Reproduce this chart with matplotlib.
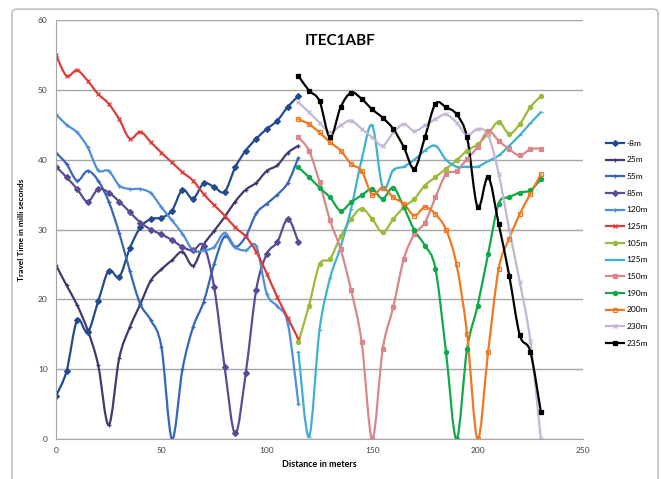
import matplotlib
matplotlib.use("Agg")
import matplotlib.pyplot as plt
from matplotlib.patches import FancyBboxPatch, PathPatch
from matplotlib.path import Path
from matplotlib.lines import Line2D

plt.rcParams['font.family'] = ['Lato', 'DejaVu Sans']

# distances for the two spreads of geophones
x_left = list(range(0, 116, 5))
x_right = list(range(115, 231, 5))

# travel times (ms), left spread
t_m8 = [6.2, 9.7, 17.0, 15.3, 19.7, 24.1, 23.2, 27.3, 30.3, 31.5, 31.7, 32.7,
        35.7, 34.4, 36.6, 36.1, 35.4, 38.9, 41.3, 43.0, 44.4, 45.6, 47.6, 49.1]
t_25 = [24.9, 22.0, 19.2, 15.6, 10.6, 2.0, 11.6, 16.0, 19.3, 22.7, 24.3, 25.6,
        26.8, 24.8, 27.8, 29.8, 31.8, 34.0, 35.7, 36.7, 38.4, 39.2, 41.0, 42.0]
t_55 = [41.0, 39.4, 37.0, 38.4, 37.0, 34.0, 29.5, 24.1, 19.3, 17.0, 13.2, 0.0,
        10.0, 16.0, 19.6, 25.0, 29.0, 27.5, 29.0, 32.3, 33.7, 35.0, 36.7, 40.3]
t_85 = [39.0, 37.5, 35.8, 34.0, 35.8, 35.3, 34.0, 32.5, 31.0, 30.0, 29.3, 28.5,
        27.5, 27.0, 27.7, 21.8, 10.3, 0.8, 9.4, 21.4, 26.5, 28.2, 31.5, 28.2]
t_120 = [46.5, 45.0, 43.9, 41.8, 38.5, 38.4, 36.3, 35.8, 35.8, 35.2, 33.2, 31.3,
         29.4, 27.0, 27.0, 27.5, 29.5, 27.5, 27.0, 27.6, 20.8, 19.0, 16.5, 5.0]
t_125a = [55.0, 52.0, 52.8, 51.3, 49.4, 48.0, 45.8, 43.0, 44.0, 42.5, 41.0, 39.6,
          38.2, 37.0, 35.1, 33.5, 32.0, 30.3, 29.0, 26.8, 23.7, 20.3, 17.3, 14.3]

# travel times (ms), right spread
t_105 = [13.9, 19.1, 25.0, 25.8, 29.0, 31.5, 33.0, 31.5, 29.6, 31.5, 33.2, 34.4,
         36.3, 37.5, 38.7, 39.9, 41.3, 42.2, 43.7, 45.4, 43.7, 45.1, 47.5, 49.1]
t_125b = [12.5, 0.3, 15.6, 23.0, 27.5, 33.0, 40.0, 44.9, 36.0, 38.5, 39.0, 40.0,
          41.3, 42.0, 40.0, 39.0, 39.0, 39.0, 39.8, 40.6, 42.0, 43.5, 45.2, 46.8]
t_150 = [43.2, 41.3, 36.8, 31.3, 27.2, 21.3, 13.9, 0.0, 12.9, 18.9, 25.8, 29.3,
         31.0, 34.6, 37.9, 38.4, 40.1, 41.8, 44.1, 42.7, 41.5, 40.6, 41.5, 41.6]
t_190 = [38.9, 37.5, 36.0, 34.6, 32.7, 33.9, 34.9, 35.8, 34.4, 36.0, 33.2, 29.9,
         27.7, 24.4, 12.5, 0.0, 12.9, 19.1, 26.5, 33.7, 34.6, 35.3, 35.6, 37.2]
t_200 = [45.8, 45.1, 43.9, 42.5, 41.3, 39.4, 38.4, 35.0, 36.0, 34.6, 33.7, 32.0,
         33.2, 32.2, 30.0, 25.0, 15.1, 0.0, 12.5, 24.4, 28.7, 32.2, 35.1, 37.9]
t_230 = [48.2, 46.8, 45.3, 43.9, 44.9, 45.6, 44.4, 43.2, 42.0, 43.9, 45.1, 44.1,
         44.9, 45.8, 46.5, 45.3, 43.5, 44.4, 43.5, 38.0, 30.0, 22.5, 14.1, 0.0]
t_235 = [52.0, 49.9, 48.4, 43.2, 47.5, 49.6, 48.7, 47.2, 46.0, 44.4, 41.8, 38.7,
         43.2, 48.0, 47.5, 46.5, 43.2, 33.2, 37.5, 30.8, 23.4, 14.9, 12.5, 3.9]

labels = ['-8m', '25m', '55m', '85m', '120m', '125m', '105m', '125m', '150m',
          '190m', '200m', '230m', '235m']


def smooth_path(xs, ys):
    # Excel-style smoothed line: cubic bezier segments through the data points
    pts = list(zip(xs, ys))
    verts = [pts[0]]
    codes = [Path.MOVETO]
    n = len(pts)
    for i in range(n - 1):
        p0 = pts[max(i - 1, 0)]
        p1 = pts[i]
        p2 = pts[i + 1]
        p3 = pts[min(i + 2, n - 1)]
        c1 = (p1[0] + (p2[0] - p0[0]) / 6, p1[1] + (p2[1] - p0[1]) / 6)
        c2 = (p2[0] - (p3[0] - p1[0]) / 6, p2[1] - (p3[1] - p1[1]) / 6)
        verts += [c1, c2, p2]
        codes += [Path.CURVE4] * 3
    return Path(verts, codes)


fig = plt.figure(figsize=(6.61, 4.79), dpi=100)
fig.patch.set_facecolor('white')
border = FancyBboxPatch((12 / 661, -0.01), 646 / 661, 0.991,
                        boxstyle='round,pad=0,rounding_size=0.008',
                        transform=fig.transFigure, facecolor='none',
                        edgecolor='#bfbfbf', lw=1.2)
fig.patches.append(border)

ax = fig.add_axes([56 / 661, 0.0835, 527 / 661, 0.8747])

series = [
    (x_left, t_m8, '#234a8c', 'D', 'full'),
    (x_left, t_25, '#3f3a6e', '+', 'full'),
    (x_left, t_55, '#3566b8', '+', 'full'),
    (x_left, t_85, '#5b4a96', 'D', 'full'),
    (x_left, t_120, '#4f8fd6', '+', 'full'),
    (x_left, t_125a, '#dc3d38', 'x', 'full'),
    (x_right, t_105, '#9bbb3b', 'o', 'full'),
    (x_right, t_125b, '#3fb0cf', '_', 'full'),
    (x_right, t_150, '#d9878a', 's', 'full'),
    (x_right, t_190, '#12a84a', 'o', 'full'),
    (x_right, t_200, '#f07820', 's', 'none'),
    (x_right, t_230, '#c4b6d4', 'x', 'full'),
    (x_right, t_235, '#000000', 's', 'full'),
]

handles = []
for (xs, ys, col, mk, fill), lab in zip(series, labels):
    ax.add_patch(PathPatch(smooth_path(xs, ys), facecolor='none', edgecolor=col,
                           lw=1.6, capstyle='round', joinstyle='round'))
    ax.plot(xs, ys, ls='none', color=col, marker=mk, ms=3.0, mew=0.9, fillstyle=fill)
    handles.append(Line2D([], [], color=col, lw=1.6, marker=mk, ms=3.0, mew=0.9,
                          fillstyle=fill, label=lab))

ax.set_xlim(0, 250)
ax.set_ylim(0, 60)
ax.set_xticks([0, 50, 100, 150, 200, 250])
ax.set_yticks([0, 10, 20, 30, 40, 50, 60])
ax.yaxis.grid(True, color='#a6a6a6', lw=1.0)
ax.set_axisbelow(True)
for s in ['top', 'right']:
    ax.spines[s].set_visible(False)
ax.spines['left'].set_color('#a6a6a6')
ax.spines['bottom'].set_color('#a6a6a6')
ax.tick_params(labelsize=6, colors='#404040', length=0, pad=6)

ax.set_title('ITEC1ABF', fontsize=11, fontweight='bold', x=0.54, y=0.92)
ax.set_xlabel('Distance in meters', fontsize=6.5, fontweight='bold', labelpad=4)
ax.set_ylabel('Travel Time in milli seconds', fontsize=6, fontweight='bold', labelpad=9)

ax.legend(handles=handles, loc='upper left', bbox_to_anchor=(1.029, 0.732),
          frameon=False, fontsize=6, handlelength=2.2, labelspacing=1.16,
          handletextpad=0.3)

fig.savefig('out.png', dpi=100)
